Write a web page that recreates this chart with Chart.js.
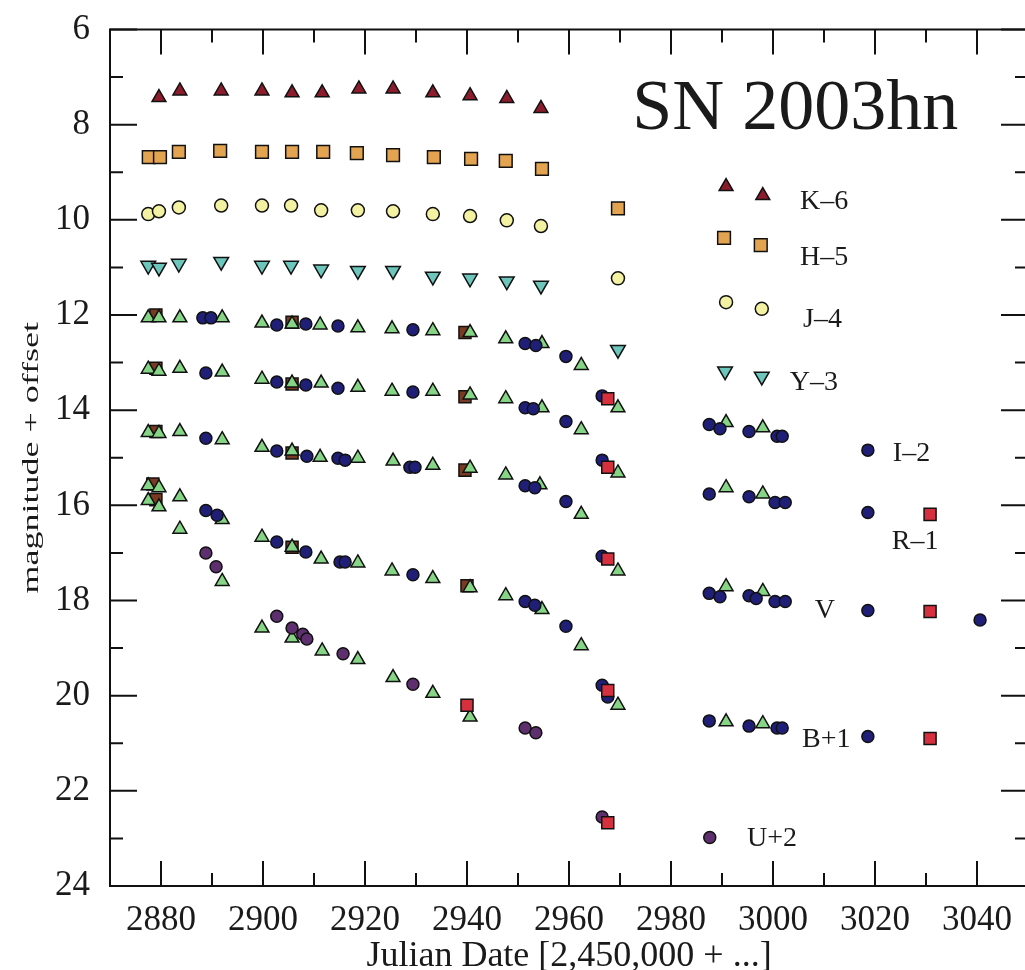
<!DOCTYPE html>
<html>
<head>
<meta charset="utf-8">
<script src="https://cdn.jsdelivr.net/npm/chart.js@4.4.1/dist/chart.umd.min.js"></script>
<style>
  html, body { margin: 0; padding: 0; background: #fff; overflow: hidden; }
  #wrap { width: 1040px; height: 970px; }
</style>
</head>
<body>
<div id="wrap"><canvas id="lc" width="1040" height="970"></canvas></div>
<script>
// SN 2003hn multi-band light curves, JD - 2,450,000 vs magnitude (+ band offset)
const xTicks = [2880, 2900, 2920, 2940, 2960, 2980, 3000, 3020, 3040];
const yTicks = [6, 8, 10, 12, 14, 16, 18, 20, 22, 24];

// near-infrared bands
const kBand = [[2879.6,7.43],[2883.7,7.29],[2891.8,7.29],[2899.8,7.29],[2905.7,7.33],[2911.6,7.33],[2918.8,7.25],[2925.5,7.25],[2933.3,7.33],[2940.6,7.39],[2947.8,7.45],[2954.5,7.66],[2990.8,9.30],[2998.0,9.49]];
const hBand = [[2877.6,8.68],[2879.8,8.68],[2883.5,8.57],[2891.6,8.55],[2899.8,8.57],[2905.7,8.57],[2911.8,8.57],[2918.4,8.60],[2925.5,8.64],[2933.5,8.68],[2940.8,8.72],[2947.6,8.76],[2954.7,8.93],[2969.6,9.76],[2990.4,10.38],[2997.6,10.53]];
const jBand = [[2877.5,9.88],[2879.6,9.82],[2883.5,9.74],[2891.8,9.70],[2899.8,9.70],[2905.5,9.70],[2911.4,9.80],[2918.6,9.80],[2925.5,9.82],[2933.3,9.88],[2940.6,9.92],[2947.8,10.01],[2954.5,10.13],[2969.6,11.23],[2990.8,11.73],[2997.8,11.87]];
const yBand = [[2877.5,10.96],[2879.6,11.00],[2883.5,10.92],[2891.8,10.88],[2899.8,10.96],[2905.5,10.96],[2911.4,11.04],[2918.6,11.07],[2925.5,11.07],[2933.3,11.19],[2940.6,11.23],[2947.8,11.29],[2954.5,11.38],[2969.6,12.73],[2990.6,13.18],[2997.8,13.29]];

// I band (offset -2)
const iGreen = [[2877.5,12.06],[2879.6,12.06],[2883.7,12.06],[2892.0,12.06],[2899.8,12.17],[2905.7,12.19],[2911.2,12.21],[2918.6,12.27],[2925.3,12.29],[2933.3,12.33],[2940.6,12.37],[2947.6,12.50],[2954.7,12.60],[2962.4,13.06],[2969.6,13.95],[2990.8,14.26],[2998.0,14.37]];
const iBlue = [[2888.2,12.06],[2889.8,12.06],[2902.7,12.21],[2908.4,12.19],[2914.7,12.23],[2929.4,12.31],[2951.4,12.60],[2953.5,12.64],[2959.4,12.87],[2966.5,13.70],[2987.5,14.30],[2989.6,14.39],[2995.3,14.45],[3000.8,14.55],[3001.8,14.55],[3018.6,14.84]];
const iBrown = [[2879.0,12.00],[2905.7,12.15],[2939.6,12.37]];
const iRed = [[2967.6,13.76]];

// R band (offset -1)
const rGreen = [[2877.5,13.14],[2879.6,13.18],[2883.7,13.12],[2892.0,13.20],[2899.8,13.35],[2905.7,13.43],[2911.4,13.43],[2918.6,13.52],[2925.3,13.60],[2933.3,13.60],[2940.6,13.68],[2947.6,13.76],[2954.7,13.95],[2962.4,14.41],[2969.6,15.32],[2990.8,15.63],[2998.0,15.76]];
const rBlue = [[2888.8,13.22],[2902.7,13.41],[2908.4,13.47],[2914.7,13.54],[2929.4,13.62],[2951.4,13.95],[2953.0,13.97],[2959.4,14.24],[2966.5,15.05],[2987.5,15.76],[2995.3,15.82],[3000.4,15.94],[3002.4,15.94],[3018.6,16.15]];
const rBrown = [[2879.0,13.12],[2905.7,13.45],[2939.6,13.72]];
const rRed = [[2967.6,15.20],[3030.8,16.19]];

// V band
const vGreen = [[2877.5,14.47],[2879.6,14.49],[2883.7,14.45],[2892.0,14.62],[2899.8,14.78],[2905.7,14.86],[2911.2,14.99],[2918.6,15.01],[2925.5,15.07],[2933.3,15.16],[2940.6,15.22],[2947.6,15.36],[2954.3,15.57],[2962.4,16.19],[2969.6,17.38],[2990.8,17.71],[2998.0,17.81]];
const vBlue = [[2888.8,14.59],[2902.7,14.86],[2908.6,14.97],[2914.7,15.01],[2916.1,15.05],[2928.8,15.20],[2929.8,15.20],[2951.4,15.59],[2953.3,15.63],[2959.4,15.92],[2966.5,17.07],[2987.5,17.85],[2989.6,17.92],[2995.3,17.90],[2996.7,17.96],[3000.4,18.02],[3002.4,18.02],[3018.6,18.21],[3040.6,18.41]];
const vBrown = [[2879.0,14.45],[2905.7,14.90],[2939.6,15.26]];
const vRed = [[2967.6,17.13],[3030.8,18.23]];

// B band (offset +1)
const bGreen = [[2877.5,15.59],[2879.6,15.63],[2883.7,15.82],[2892.0,16.30],[2899.8,16.67],[2905.7,16.88],[2911.4,17.13],[2918.6,17.21],[2925.3,17.38],[2933.3,17.54],[2940.6,17.73],[2947.6,17.90],[2954.7,18.19],[2962.4,18.95],[2969.6,20.20],[2990.8,20.55],[2998.0,20.59]];
const bBlue = [[2888.8,16.11],[2891.0,16.21],[2902.7,16.77],[2908.4,16.98],[2915.1,17.19],[2916.1,17.19],[2929.4,17.46],[2951.4,18.02],[2953.3,18.10],[2959.4,18.54],[2966.5,19.78],[2967.6,20.03],[2987.5,20.53],[2995.3,20.64],[3000.8,20.68],[3001.8,20.68],[3018.6,20.86]];
const bBrown = [[2878.4,15.55],[2905.7,16.88],[2940.0,17.69]];
const bRed = [[2967.6,19.89],[3030.8,20.90]];

// U band (offset +2)
const uGreen = [[2877.5,15.90],[2879.6,16.03],[2883.7,16.50],[2892.0,17.60],[2899.8,18.58],[2905.7,18.79],[2911.6,19.06],[2918.6,19.24],[2925.5,19.62],[2933.3,19.95],[2940.6,20.45]];
const uPurple = [[2888.8,17.00],[2890.8,17.29],[2902.7,18.33],[2905.7,18.58],[2907.8,18.71],[2908.6,18.81],[2915.7,19.12],[2929.4,19.76],[2951.4,20.68],[2953.5,20.78],[2966.5,22.55],[2987.6,22.98]];
const uBrown = [[2879.0,15.88]];
const uRed = [[2940.0,20.20],[2967.6,22.67]];

// band annotations, placed in data coordinates (left edge, vertical middle)
const bandLabels = ['K\u20136', 'H\u20135', 'J\u20134', 'Y\u20133', 'I\u20132', 'R\u20131', 'V', 'B+1', 'U+2'];
const labelJD = [3005.3, 3005.3, 3005.9, 3003.3, 3023.5, 3023.3, 3008.2, 3005.7, 2994.9];
const labelMag = [9.61, 10.80, 12.10, 13.43, 14.91, 16.77, 18.21, 20.93, 23.0];
const titleText = 'SN 2003hn';

const SERIF = '"Liberation Serif", "Times New Roman", Times, serif';
const pts = (...lists) => lists.flat().map(([x, y]) => ({x, y}));

function series(data, style, fill, radius, rotation, order) {
  return {
    data, pointStyle: style, pointRadius: radius, pointHoverRadius: radius,
    rotation: rotation || 0, backgroundColor: fill, borderColor: '#111',
    pointBorderWidth: 1.5, borderWidth: 1.5, showLine: false, order
  };
}

const datasets = [
  series(pts(iRed, rRed, vRed, bRed, uRed), 'rect', '#d6303e', 8.5, 0, 0),
  series(pts(uPurple), 'circle', '#5e2f6e', 6, 0, 1),
  series(pts(iBlue, rBlue, vBlue, bBlue), 'circle', '#1f1f78', 6, 0, 2),
  series(pts(iGreen, rGreen, vGreen, bGreen, uGreen), 'triangle', '#86d486', 8, 0, 3),
  series(pts(iBrown, rBrown, vBrown, bBrown, uBrown), 'rect', '#7a3a22', 8.5, 0, 4),
  series(pts(kBand), 'triangle', '#8b1c2c', 8, 0, 5),
  series(pts(hBand), 'rect', '#e3a452', 9, 0, 6),
  series(pts(jBand), 'circle', '#f3f1a2', 6.5, 0, 7),
  series(pts(yBand), 'triangle', '#6cc6bc', 8.5, 180, 8)
];

const framePlugin = {
  id: 'framePlugin',
  beforeDatasetsDraw(chart) {
    const {ctx, chartArea: a, scales: {x, y}} = chart;
    ctx.save();
    ctx.strokeStyle = '#111';
    ctx.lineWidth = 2;
    ctx.strokeRect(a.left, a.top, a.right - a.left, a.bottom - a.top);
    ctx.beginPath();
    for (let v = x.min; v <= x.max; v += 10) {
      const px = x.getPixelForValue(v);
      const len = xTicks.includes(v) ? 25 : 13;
      ctx.moveTo(px, a.bottom); ctx.lineTo(px, a.bottom - len);
      ctx.moveTo(px, a.top); ctx.lineTo(px, a.top + len);
    }
    for (let v = y.min; v <= y.max; v += 1) {
      const py = y.getPixelForValue(v);
      const len = yTicks.includes(v) ? 27 : 13;
      ctx.moveTo(a.left, py); ctx.lineTo(a.left + len, py);
      ctx.moveTo(a.right, py); ctx.lineTo(a.right - len, py);
    }
    ctx.stroke();
    ctx.restore();
  },
  afterDatasetsDraw(chart) {
    const {ctx, chartArea: a, scales: {x, y}} = chart;
    ctx.save();
    ctx.fillStyle = '#1a1a1a';
    // band labels
    ctx.font = '28px ' + SERIF;
    ctx.textAlign = 'left';
    ctx.textBaseline = 'middle';
    bandLabels.forEach((t, i) => {
      ctx.fillText(t, x.getPixelForValue(labelJD[i]), y.getPixelForValue(labelMag[i]));
    });
    // object name
    ctx.font = '72px ' + SERIF;
    ctx.textBaseline = 'alphabetic';
    ctx.fillText(titleText, x.getPixelForValue(2972.4), y.getPixelForValue(8.10));
    // vertical axis title, stretched along its length
    ctx.translate(32, (a.top + a.bottom) / 2);
    ctx.rotate(-Math.PI / 2);
    ctx.scale(1.5, 1);
    ctx.font = '24px ' + SERIF;
    ctx.textAlign = 'center';
    ctx.textBaseline = 'middle';
    ctx.fillText('magnitude + offset', 0, 0);
    ctx.restore();
  }
};

new Chart(document.getElementById('lc'), {
  type: 'scatter',
  data: { datasets },
  options: {
    responsive: false,
    animation: false,
    events: [],
    layout: { padding: { top: 19, right: 12, left: 0, bottom: 0 } },
    plugins: { legend: { display: false }, tooltip: { enabled: false } },
    scales: {
      x: {
        type: 'linear', min: 2870, max: 3050,
        grid: { display: false }, border: { display: false },
        afterBuildTicks: s => { s.ticks = xTicks.map(v => ({value: v})); },
        afterFit: s => { s.height = 84; },
        ticks: { font: { family: SERIF, size: 35, lineHeight: 1 }, color: '#1a1a1a', padding: 9,
                 maxRotation: 0, autoSkip: false, callback: v => String(v) },
        title: { display: true, text: 'Julian Date [2,450,000 + ...]', color: '#1a1a1a',
                 font: { family: SERIF, size: 36, lineHeight: 1 }, padding: { top: 0, bottom: -5 } }
      },
      y: {
        type: 'linear', reverse: true, min: 6, max: 24,
        grid: { display: false }, border: { display: false },
        afterBuildTicks: s => { s.ticks = yTicks.map(v => ({value: v})); },
        afterFit: s => { s.width = 110; },
        ticks: { font: { family: SERIF, size: 35, lineHeight: 1 }, color: '#1a1a1a', padding: 12,
                 autoSkip: false, callback: v => String(v) }
      }
    }
  },
  plugins: [framePlugin]
});
</script>
</body>
</html>
